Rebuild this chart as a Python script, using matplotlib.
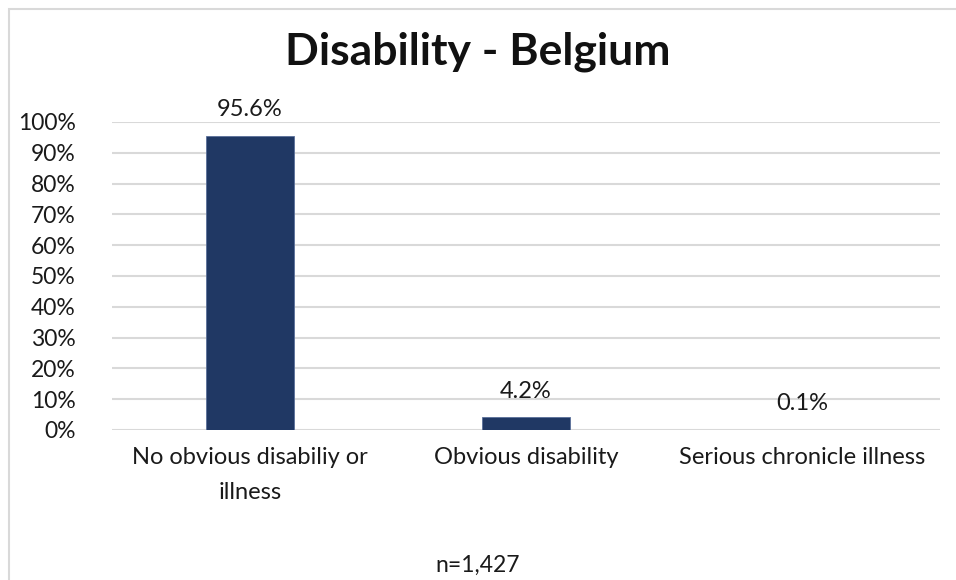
import matplotlib.pyplot as plt
from matplotlib.patches import Rectangle
from matplotlib.ticker import PercentFormatter

# data
categories = ["No obvious disabiliy or\nillness", "Obvious disability", "Serious chronicle illness"]
values = [95.6, 4.2, 0.1]
value_labels = ["95.6%", "4.2%", "0.1%"]
y_ticks = list(range(0, 101, 10))

BAR_COLOR = "#203864"
GRID_COLOR = "#D9D9D9"
TEXT_COLOR = "#1a1a1a"
plt.rcParams["font.family"] = ["Lato", "DejaVu Sans"]

fig = plt.figure(figsize=(9.56, 5.80), dpi=100)
ax = fig.add_axes([112 / 956, 1 - 430 / 580, (940 - 112) / 956, (430 - 122) / 580])

x = range(len(categories))
ax.bar(x, values, width=0.32, color=BAR_COLOR, edgecolor="#5a6f9a", linewidth=0.6, zorder=3)
for xi, v, lab in zip(x, values, value_labels):
    ax.annotate(lab, (xi, v), xytext=(0, 11), textcoords="offset points",
                ha="center", va="bottom", fontsize=17, color=TEXT_COLOR)

ax.set_xlim(-0.5, 2.5)
ax.set_ylim(0, 100)
ax.set_yticks(y_ticks)
ax.yaxis.set_major_formatter(PercentFormatter(decimals=0))
ax.set_xticks(list(x))
ax.set_xticklabels(categories, fontsize=17, linespacing=1.85, color=TEXT_COLOR)
ax.tick_params(axis="y", labelsize=16.5, length=0, pad=26, labelcolor=TEXT_COLOR)
ax.tick_params(axis="x", length=0, pad=12)
ax.grid(axis="y", color=GRID_COLOR, linewidth=1.5, zorder=0)
for s in ax.spines.values():
    s.set_visible(False)

fig.text(0.5, 1 - 52 / 580, "Disability - Belgium", ha="center", va="center",
         fontsize=32, fontweight="bold", color="#111111")
fig.text(0.5, 1 - 565 / 580, "n=1,427", ha="center", va="center", fontsize=16.5, color=TEXT_COLOR)

# chart border
fig.patches.append(Rectangle((9 / 956, -0.1), 1.2, (1 - 9 / 580) + 0.1, transform=fig.transFigure,
                             fill=False, edgecolor=GRID_COLOR, linewidth=1.5))

fig.savefig("out.png", dpi=100)
